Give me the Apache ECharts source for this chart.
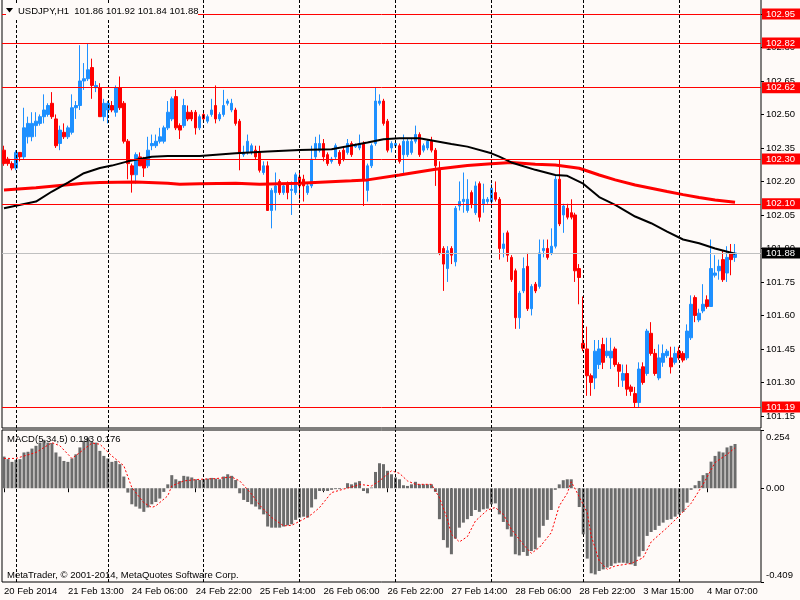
<!DOCTYPE html>
<html>
<head>
<meta charset="utf-8">
<title>USDJPY H1</title>
<script src="https://cdn.jsdelivr.net/npm/echarts@6/dist/echarts.min.js"></script>
<style>
  html, body { margin: 0; padding: 0; background: #fefaf8; }
  #chart { width: 800px; height: 600px; }
</style>
</head>
<body>
<div id="chart"></div>
<script>
// USDJPY H1 candles (one value per hourly bar)
const opens = [
  102.34,102.30,102.28,102.26,102.33,102.31,102.40,102.40,102.45,102.46,
  102.49,102.50,102.55,102.48,102.37,102.42,102.40,102.42,102.53,102.54,
  102.65,102.66,102.71,102.62,102.62,102.49,102.52,102.54,102.51,102.62,
  102.55,102.38,102.27,102.23,102.31,102.30,102.27,102.36,102.36,102.38,
  102.38,102.44,102.48,102.58,102.45,102.45,102.51,102.51,102.51,102.44,
  102.50,102.47,102.50,102.54,102.48,102.50,102.55,102.52,102.52,102.47,
  102.32,102.33,102.33,102.34,102.33,102.24,102.27,102.07,102.15,102.20,
  102.15,102.19,102.16,102.15,102.22,102.21,102.15,102.18,102.31,102.34,
  102.37,102.32,102.29,102.31,102.33,102.34,102.33,102.37,102.355,102.35,
  102.37,102.16,102.27,102.37,102.55,102.56,102.47,102.35,102.36,102.36,
  102.32,102.32,102.33,102.38,102.41,102.34,102.35,102.38,102.34,102.26,
  101.90,101.81,101.90,101.84,102.09,102.11,102.07,102.15,102.06,102.19,
  102.10,102.11,102.11,102.15,102.12,101.90,101.97,101.86,101.80,101.59,
  101.71,101.82,101.63,101.74,101.73,101.89,101.90,101.88,101.91,102.21,
  102.05,102.08,102.06,102.05,101.81,101.475,101.45,101.33,101.32,101.38,
  101.47,101.42,101.41,101.45,101.38,101.31,101.34,101.28,101.25,101.21,
  101.37,101.34,101.52,101.43,101.32,101.39,101.42,101.41,101.39,101.44,
  101.43,101.41,101.50,101.68,101.58,101.62,101.67,101.64,101.78,101.80,
  101.85,101.79,101.88,101.86
];
const highs = [
  102.36,102.31,102.29,102.34,102.33,102.53,102.49,102.51,102.51,102.50,
  102.59,102.55,102.60,102.50,102.45,102.46,102.45,102.59,102.56,102.81,
  102.73,102.82,102.75,102.65,102.64,102.57,102.56,102.56,102.63,102.67,
  102.56,102.39,102.28,102.33,102.33,102.31,102.40,102.41,102.41,102.44,
  102.45,102.56,102.58,102.61,102.46,102.57,102.54,102.52,102.52,102.50,
  102.52,102.50,102.57,102.63,102.51,102.61,102.57,102.57,102.53,102.48,
  102.36,102.41,102.37,102.36,102.36,102.29,102.29,102.17,102.24,102.21,
  102.19,102.20,102.20,102.24,102.24,102.23,102.19,102.36,102.40,102.41,
  102.39,102.33,102.31,102.37,102.34,102.35,102.39,102.38,102.37,102.41,
  102.38,102.28,102.37,102.62,102.59,102.57,102.48,102.38,102.38,102.37,
  102.41,102.39,102.39,102.45,102.42,102.37,102.39,102.40,102.35,102.29,
  101.91,101.91,101.91,102.09,102.20,102.24,102.21,102.16,102.20,102.20,
  102.19,102.13,102.19,102.20,102.13,101.97,101.98,101.87,101.81,101.71,
  101.86,101.88,101.74,101.75,101.94,101.94,101.94,101.99,102.23,102.30,
  102.10,102.10,102.12,102.06,101.83,101.685,101.55,101.34,101.49,101.49,
  101.50,101.50,101.50,101.46,101.39,101.38,101.38,101.29,101.28,101.39,
  101.39,101.54,101.57,101.45,101.47,101.47,101.45,101.46,101.46,101.46,
  101.44,101.56,101.69,101.69,101.63,101.74,101.69,101.94,101.87,101.85,
  101.89,101.91,101.92,101.92
];
const lows = [
  102.27,102.27,102.25,102.25,102.29,102.30,102.37,102.38,102.40,102.45,
  102.46,102.49,102.48,102.35,102.34,102.39,102.39,102.41,102.48,102.52,
  102.61,102.65,102.57,102.60,102.49,102.47,102.46,102.51,102.49,102.52,
  102.37,102.21,102.15,102.19,102.27,102.22,102.26,102.34,102.35,102.37,
  102.37,102.43,102.47,102.43,102.39,102.44,102.47,102.47,102.41,102.43,
  102.47,102.46,102.49,102.46,102.47,102.49,102.54,102.51,102.45,102.25,
  102.31,102.32,102.32,102.30,102.24,102.23,102.07,101.99,102.07,102.14,
  102.14,102.12,102.05,102.14,102.12,102.11,102.14,102.17,102.30,102.33,
  102.29,102.27,102.28,102.30,102.27,102.29,102.32,102.31,102.35,102.34,
  102.09,102.11,102.26,102.36,102.54,102.45,102.33,102.33,102.35,102.28,
  102.23,102.31,102.32,102.37,102.31,102.33,102.34,102.33,102.18,101.87,
  101.71,101.75,101.83,101.82,102.07,102.06,102.06,102.08,102.05,102.02,
  102.06,102.10,102.10,102.11,101.85,101.86,101.84,101.75,101.54,101.54,
  101.70,101.62,101.60,101.70,101.72,101.86,101.85,101.87,101.90,102.00,
  101.97,102.03,102.03,101.75,101.65,101.44,101.24,101.24,101.27,101.36,
  101.36,101.41,101.36,101.37,101.28,101.28,101.24,101.24,101.19,101.19,
  101.29,101.33,101.42,101.33,101.31,101.37,101.41,101.34,101.38,101.40,
  101.39,101.40,101.49,101.57,101.57,101.61,101.63,101.64,101.77,101.76,
  101.75,101.75,101.78,101.84
];
const closes = [
  102.28,102.28,102.26,102.33,102.31,102.44,102.46,102.46,102.47,102.49,
  102.52,102.54,102.49,102.36,102.43,102.40,102.44,102.53,102.54,102.65,
  102.66,102.70,102.63,102.63,102.49,102.55,102.55,102.52,102.62,102.53,
  102.38,102.28,102.23,102.32,102.27,102.26,102.34,102.37,102.38,102.40,
  102.44,102.51,102.57,102.44,102.43,102.54,102.48,102.48,102.44,102.49,
  102.48,102.49,102.52,102.48,102.50,102.54,102.56,102.55,102.46,102.33,
  102.33,102.38,102.36,102.31,102.25,102.27,102.07,102.16,102.18,102.15,
  102.18,102.15,102.165,102.23,102.18,102.18,102.18,102.30,102.37,102.37,
  102.31,102.28,102.30,102.36,102.28,102.30,102.37,102.32,102.365,102.37,
  102.21,102.27,102.36,102.56,102.56,102.46,102.34,102.37,102.37,102.29,
  102.38,102.38,102.38,102.41,102.32,102.36,102.38,102.34,102.27,101.88,
  101.83,101.89,101.87,102.08,102.11,102.12,102.12,102.10,102.18,102.04,
  102.12,102.12,102.17,102.12,101.90,101.92,101.87,101.76,101.59,101.70,
  101.81,101.63,101.73,101.71,101.88,101.90,101.86,101.91,102.21,102.01,
  102.09,102.04,102.04,101.80,101.77,101.453,101.33,101.30,101.44,101.45,
  101.39,101.44,101.44,101.38,101.35,101.34,101.27,101.26,101.21,101.36,
  101.30,101.53,101.43,101.34,101.41,101.43,101.44,101.37,101.43,101.41,
  101.40,101.53,101.65,101.60,101.61,101.65,101.64,101.81,101.79,101.82,
  101.76,101.86,101.85,101.88
];

// moving averages, read at sample bars: [bar index, price]
const blackMa = [
  [0,102.08],[8,102.11],[12,102.155],[16,102.195],[20,102.237],[24,102.26],[27,102.271],
  [31,102.29],[37,102.311],[41,102.314],[49,102.314],[58,102.326],[66,102.334],[74,102.341],
  [82,102.344],[91,102.374],[95,102.389],[99,102.393],[104,102.393],[112,102.368],[116,102.356],
  [122,102.326],[124,102.311],[127,102.285],[133,102.252],[138,102.229],[141,102.225],[145,102.19],
  [149,102.13],[153,102.095],[158,102.043],[162,102.013],[166,101.975],[170,101.94],[174,101.923],
  [178,101.90],[183,101.876]
];
const redMa = [
  [0,102.162],[8,102.172],[16,102.185],[20,102.192],[24,102.195],[33,102.197],[41,102.192],
  [44,102.187],[49,102.19],[58,102.192],[64,102.187],[74,102.192],[83,102.200],[87,102.203],
  [91,102.207],[99,102.229],[108,102.255],[116,102.271],[122,102.279],[127,102.285],[133,102.277],
  [138,102.274],[144,102.259],[149,102.229],[153,102.207],[158,102.184],[166,102.155],[170,102.141],
  [174,102.128],[178,102.117],[183,102.107]
];

// MACD(5,34,5) histogram, one value per bar
const macdHist = [
  0.138,0.127,0.115,0.124,0.127,0.156,0.159,0.173,0.185,0.199,
  0.211,0.199,0.197,0.156,0.138,0.119,0.115,0.130,0.148,0.178,
  0.207,0.221,0.202,0.199,0.163,0.141,0.130,0.115,0.119,0.105,
  0.051,-0.019,-0.070,-0.080,-0.089,-0.103,-0.084,-0.070,-0.060,-0.045,
  -0.016,0.017,0.057,0.039,0.032,0.054,0.051,0.047,0.039,0.036,
  0.039,0.042,0.045,0.042,0.039,0.051,0.061,0.054,0.036,-0.022,
  -0.051,-0.060,-0.070,-0.080,-0.092,-0.114,-0.167,-0.172,-0.172,-0.172,
  -0.167,-0.162,-0.157,-0.138,-0.128,-0.124,-0.128,-0.084,-0.048,-0.012,
  -0.012,-0.012,-0.007,-0.004,-0.004,-0.001,0.022,0.017,0.025,0.031,
  -0.012,-0.022,0.003,0.071,0.109,0.105,0.076,0.061,0.047,0.039,
  0.013,0.010,0.017,0.028,0.017,0.017,0.017,0.017,-0.016,-0.135,
  -0.226,-0.259,-0.288,-0.220,-0.172,-0.150,-0.135,-0.121,-0.095,-0.103,
  -0.092,-0.089,-0.070,-0.066,-0.114,-0.147,-0.179,-0.211,-0.288,-0.293,
  -0.278,-0.295,-0.274,-0.266,-0.215,-0.164,-0.138,-0.095,-0.007,0.017,
  0.035,0.039,0.039,-0.001,-0.082,-0.201,-0.307,-0.371,-0.376,-0.361,
  -0.354,-0.346,-0.339,-0.328,-0.325,-0.325,-0.328,-0.332,-0.339,-0.298,
  -0.274,-0.208,-0.191,-0.182,-0.164,-0.150,-0.138,-0.135,-0.124,-0.114,
  -0.103,-0.063,-0.007,0.013,0.032,0.057,0.066,0.116,0.141,0.160,
  0.156,0.178,0.185,0.193
];
// signal line, read at sample bars: [bar index, value]
const macdSignal = [
  [0,0.130],[3,0.130],[8,0.156],[12,0.199],[14,0.185],[17,0.130],[19,0.156],[22,0.197],
  [24,0.192],[27,0.141],[30,0.098],[32,0.003],[35,-0.063],[37,-0.084],[38,-0.077],[41,-0.033],
  [42,0.010],[45,0.032],[49,0.039],[53,0.042],[57,0.049],[59,0.032],[62,-0.026],[64,-0.074],
  [67,-0.128],[70,-0.164],[72,-0.162],[75,-0.135],[77,-0.114],[79,-0.084],[82,-0.019],[85,-0.004],
  [88,0.010],[89,0.017],[92,0.010],[94,0.032],[97,0.076],[99,0.065],[101,0.032],[103,0.017],
  [107,0.017],[109,-0.041],[111,-0.135],[112,-0.201],[114,-0.234],[116,-0.211],[118,-0.143],
  [121,-0.095],[123,-0.084],[125,-0.114],[127,-0.179],[130,-0.245],[132,-0.284],[134,-0.259],
  [137,-0.194],[139,-0.077],[141,-0.022],[142,0.028],[143,-0.004],[146,-0.106],[147,-0.208],
  [149,-0.317],[151,-0.354],[153,-0.339],[157,-0.328],[160,-0.303],[162,-0.234],[166,-0.172],
  [169,-0.121],[172,-0.066],[175,0.017],[178,0.112],[181,0.148],[183,0.176]
];

// horizontal levels drawn on the chart, and the bid line
const levels = [102.95, 102.82, 102.62, 102.30, 102.10, 101.19];
const bidPrice = 101.88;
// first bar of each day (period separators)
const daySeparators = [3, 26, 50, 74, 98, 122, 145, 169];

// axis ticks
const priceTicks = [101.15, 101.30, 101.45, 101.60, 101.75, 101.90, 102.05, 102.20, 102.35, 102.50, 102.65, 102.80, 102.95];
const macdTicks = [0.254, 0, -0.409];
const macdTickLabels = ['0.254', '0.00', '-0.409'];
const timeLabels = ['20 Feb 2014', '21 Feb 13:00', '24 Feb 06:00', '24 Feb 22:00', '25 Feb 14:00', '26 Feb 06:00',
  '26 Feb 22:00', '27 Feb 14:00', '28 Feb 06:00', '28 Feb 22:00', '3 Mar 15:00', '4 Mar 07:00'];
const labelEvery = 16;

// 190 bar slots: 184 bars plus the chart shift on the right
const slotCount = 190;
const slots = Array.from({ length: slotCount }, (_, i) => i);

const BG = '#fefaf8';
const FONT = 'Liberation Sans';
const FS = 9.5;
const last = opens.length - 1;

const candles = opens.map((o, i) => [o, closes[i], lows[i], highs[i]]);

const separatorLines = daySeparators.map(k => ({
  xAxis: k,
  lineStyle: { color: '#000', width: 1, type: [3, 2] },
  label: { show: false }
}));

const levelLines = levels.map(v => ({
  yAxis: v,
  lineStyle: { color: '#ff0000', width: 1, type: 'solid' },
  label: {
    show: true, position: 'end', distance: 1, formatter: v.toFixed(2),
    color: '#fff', backgroundColor: '#ff0000', padding: [1, 8, 0, 4],
    fontFamily: FONT, fontSize: FS
  }
}));

const bidLine = {
  yAxis: bidPrice,
  lineStyle: { color: '#c0c0c0', width: 1, type: 'solid' },
  label: {
    show: true, position: 'end', distance: 1, formatter: bidPrice.toFixed(2),
    color: '#fff', backgroundColor: '#000', padding: [1, 8, 0, 4],
    fontFamily: FONT, fontSize: FS
  }
};

const headerText = 'USDJPY,H1  ' + [opens[last], highs[last], lows[last], closes[last]].map(v => v.toFixed(2)).join(' ');
const macdText = 'MACD(5,34,5) ' + macdHist[last].toFixed(3) + ' ' + macdSignal[macdSignal.length - 1][1].toFixed(3);

const showLabel = (index) => index % labelEvery === 0 && index / labelEvery < timeLabels.length;

const chart = echarts.init(document.getElementById('chart'), null, { renderer: 'canvas', width: 800, height: 600 });

chart.setOption({
  animation: false,
  backgroundColor: BG,
  textStyle: { fontFamily: FONT },
  grid: [
    // top edge sits just above the canvas so the frame has no visible top line
    { left: 2, right: 39, top: -1, bottom: 172, show: true, borderColor: '#000', borderWidth: 1, backgroundColor: BG, outerBoundsMode: 'none' },
    { left: 2, right: 39, top: 430, bottom: 18, show: true, borderColor: '#000', borderWidth: 1, backgroundColor: BG, outerBoundsMode: 'none' }
  ],
  xAxis: [
    {
      type: 'category', gridIndex: 0, data: slots, boundaryGap: true,
      axisLine: { show: false }, axisTick: { show: false }, axisLabel: { show: false }, splitLine: { show: false }
    },
    {
      type: 'category', gridIndex: 1, data: slots, boundaryGap: true,
      axisLine: { show: false },
      axisTick: { show: true, interval: showLabel, alignWithLabel: true, length: 4, lineStyle: { color: '#000' } },
      axisLabel: {
        show: true, interval: showLabel, align: 'left', margin: 4, color: '#000',
        fontFamily: FONT, fontSize: FS,
        formatter: (value, index) => timeLabels[index / labelEvery] || ''
      },
      splitLine: { show: false }
    }
  ],
  yAxis: [
    {
      type: 'value', gridIndex: 0, position: 'right', min: 101.096, max: 103.017,
      splitLine: { show: false }, axisLine: { show: false },
      axisTick: { show: true, customValues: priceTicks, length: 3, lineStyle: { color: '#000' } },
      axisLabel: {
        show: true, customValues: priceTicks, margin: 5, color: '#000', fontFamily: FONT, fontSize: FS,
        formatter: v => v.toFixed(2)
      }
    },
    {
      type: 'value', gridIndex: 1, position: 'right', min: -0.409, max: 0.254,
      splitLine: { show: false }, axisLine: { show: false },
      axisTick: { show: true, customValues: macdTicks, length: 3, lineStyle: { color: '#000' } },
      axisLabel: {
        show: true, customValues: macdTicks, margin: 5, color: '#000', fontFamily: FONT, fontSize: FS,
        formatter: v => {
          const i = macdTicks.findIndex(t => Math.abs(t - v) < 1e-6);
          const key = i === 0 ? 't' : (i === 2 ? 'b' : 'm');
          return '{' + key + '|' + (i >= 0 ? macdTickLabels[i] : '') + '}';
        },
        rich: {
          t: { padding: [14, 0, 0, 0], color: '#000', fontFamily: FONT, fontSize: FS },
          m: { color: '#000', fontFamily: FONT, fontSize: FS },
          b: { padding: [0, 0, 14, 0], color: '#000', fontFamily: FONT, fontSize: FS }
        }
      }
    }
  ],
  series: [
    {
      name: 'USDJPY', type: 'candlestick', xAxisIndex: 0, yAxisIndex: 0,
      data: candles, barWidth: 3,
      itemStyle: {
        color: '#1e90ff', color0: '#ff0000',
        borderColor: '#1e90ff', borderColor0: '#ff0000', borderColorDoji: '#1e90ff', borderWidth: 1
      },
      markLine: {
        symbol: 'none', silent: true, animation: false,
        data: [...separatorLines, bidLine, ...levelLines]
      }
    },
    {
      name: 'MA slow', type: 'line', xAxisIndex: 0, yAxisIndex: 0, data: redMa,
      showSymbol: false, smooth: false, silent: true,
      lineStyle: { color: '#ff0000', width: 3 }
    },
    {
      name: 'MA fast', type: 'line', xAxisIndex: 0, yAxisIndex: 0, data: blackMa,
      showSymbol: false, smooth: false, silent: true,
      lineStyle: { color: '#000', width: 2 }
    },
    {
      name: 'MACD', type: 'bar', xAxisIndex: 1, yAxisIndex: 1, data: macdHist,
      barWidth: 3, silent: true,
      itemStyle: { color: '#6b6b6b' },
      markLine: { symbol: 'none', silent: true, animation: false, data: separatorLines }
    },
    {
      name: 'Signal', type: 'line', xAxisIndex: 1, yAxisIndex: 1, data: macdSignal,
      showSymbol: false, silent: true,
      lineStyle: { color: '#ff0000', width: 1, type: [2, 2] }
    }
  ],
  graphic: [
    { type: 'rect', z: 100, shape: { x: 6, y: 4, width: 192, height: 14 }, style: { fill: BG } },
    { type: 'polygon', z: 101, shape: { points: [[6, 8], [13, 8], [9.5, 12.5]] }, style: { fill: '#000' } },
    { type: 'text', z: 101, x: 18, y: 11, style: { text: headerText, fill: '#000', font: FS + 'px "' + FONT + '"', verticalAlign: 'middle' } },
    { type: 'text', z: 101, x: 7, y: 439, style: { text: macdText, fill: '#000', font: FS + 'px "' + FONT + '"', verticalAlign: 'middle' } },
    { type: 'text', z: 101, x: 7, y: 575, style: { text: 'MetaTrader, © 2001-2014, MetaQuotes Software Corp.', fill: '#000', font: FS + 'px "' + FONT + '"', verticalAlign: 'middle' } }
  ]
});
</script>
</body>
</html>
